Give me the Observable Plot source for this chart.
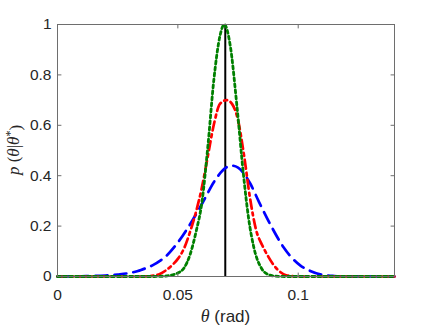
<!DOCTYPE html>
<html>
<head>
<meta charset="utf-8">
<script src="https://cdn.jsdelivr.net/npm/d3@7"></script>
<script src="https://cdn.jsdelivr.net/npm/@observablehq/plot@0.6"></script>
<style>
  html, body { margin: 0; padding: 0; background: #fff; }
  #chart svg { display: block; }
</style>
</head>
<body>
<div id="chart"></div>
<script>
// ---- data ----
const blueX  = [0, 0.01, 0.02, 0.025, 0.03, 0.0331, 0.035, 0.04, 0.0427, 0.045, 0.05, 0.0552, 0.0607, 0.065, 0.07, 0.0722, 0.075, 0.08, 0.0835, 0.089, 0.0939, 0.1008, 0.105, 0.1098, 0.115, 0.12, 0.14];
const blueY  = [0, 0.001, 0.004, 0.008, 0.014, 0.021, 0.027, 0.047, 0.063, 0.08, 0.135, 0.209, 0.30, 0.375, 0.432, 0.44, 0.432, 0.37, 0.30, 0.196, 0.116, 0.044, 0.022, 0.007, 0.002, 0.0005, 0];

const redX   = [0, 0.035, 0.04, 0.0425, 0.045, 0.0475, 0.05, 0.0525, 0.055, 0.0575, 0.06, 0.0625, 0.065, 0.0675, 0.0703, 0.0725, 0.075, 0.0775, 0.08, 0.0825, 0.085, 0.0875, 0.09, 0.0925, 0.095, 0.1, 0.14];
const redY   = [0, 0, 0.004, 0.01, 0.024, 0.044, 0.07, 0.11, 0.175, 0.255, 0.354, 0.48, 0.605, 0.685, 0.70, 0.685, 0.62, 0.48, 0.31, 0.185, 0.125, 0.08, 0.043, 0.018, 0.005, 0, 0];

const greenX = [0, 0.04, 0.045, 0.0475, 0.05, 0.0525, 0.055, 0.0575, 0.06, 0.0625, 0.065, 0.0675, 0.0693, 0.0718, 0.0745, 0.0773, 0.0794, 0.0815, 0.0849, 0.0875, 0.09, 0.095, 0.14];
const greenY = [0, 0, 0.002, 0.006, 0.014, 0.033, 0.085, 0.175, 0.295, 0.52, 0.785, 0.955, 1.0, 0.914, 0.68, 0.40, 0.23, 0.118, 0.03, 0.008, 0.002, 0, 0];

const trueTheta = [0.0697];

const xTicks = [0, 0.05, 0.1];
const xTickLabels = ["0", "0.05", "0.1"];
const yTicks = [0, 0.2, 0.4, 0.6, 0.8, 1];
const yTickLabels = ["0", "0.2", "0.4", "0.6", "0.8", "1"];

// ---- build rows ----
const rows = (xs, ys) => xs.map((x, i) => ({x, y: ys[i]}));
const blueRows = rows(blueX, blueY);
const redRows = rows(redX, redY);
const greenRows = rows(greenX, greenY);

const axisColor = "#6e6e6e";
const textColor = "#262626";
const tickShape = { draw(ctx, l) { ctx.moveTo(0, 0); ctx.lineTo(0, -l); } };
const tickOpts = { length: 3.5, anchor: "start", shape: tickShape, stroke: axisColor, strokeWidth: 1 };

const chart = Plot.plot({
  width: 436,
  height: 327,
  marginLeft: 57,
  marginRight: 42,
  marginTop: 24,
  marginBottom: 51,
  x: { domain: [0, 0.14] },
  y: { domain: [0, 1] },
  style: { fontFamily: "'Liberation Sans', Arial, Helvetica, sans-serif", fontSize: "15.5px", color: textColor, background: "white", overflow: "visible" },
  marks: [
    Plot.ruleX(trueTheta, { x: d => d, stroke: "black", strokeWidth: 2 }),
    Plot.line(blueRows, { x: "x", y: "y", stroke: "#0000ff", strokeWidth: 2.7, strokeDasharray: "12,7", curve: "monotone-x" }),
    Plot.line(redRows, { x: "x", y: "y", stroke: "#ff0000", strokeWidth: 2.7, strokeDasharray: "9,4,3,4", curve: "monotone-x" }),
    Plot.line(greenRows, { x: "x", y: "y", stroke: "#008000", strokeWidth: 2.8, strokeDasharray: "3,3", curve: "monotone-x" }),
    Plot.frame({ stroke: axisColor, strokeWidth: 1 }),
    Plot.vector(xTicks, { x: d => d, frameAnchor: "bottom", rotate: 0, ...tickOpts }),
    Plot.vector(xTicks, { x: d => d, frameAnchor: "top", rotate: 180, ...tickOpts }),
    Plot.vector(yTicks, { y: d => d, frameAnchor: "left", rotate: 90, ...tickOpts }),
    Plot.vector(yTicks, { y: d => d, frameAnchor: "right", rotate: -90, ...tickOpts }),
    Plot.axisX({ ticks: xTicks, tickFormat: d => xTickLabels[xTicks.indexOf(d)], tickSize: 0, tickPadding: 12.5, label: null, fill: textColor }),
    Plot.axisY({ ticks: yTicks, tickFormat: d => yTickLabels[yTicks.indexOf(d)], tickSize: 0, tickPadding: 6, label: null, fill: textColor })
  ]
});

document.getElementById("chart").appendChild(chart);

// ---- axis titles with mixed styling ----
const svg = d3.select(chart);
const serif = "'Liberation Serif', 'DejaVu Serif', serif";
const sans = "'Liberation Sans', Arial, sans-serif";

const xl = svg.append("text")
  .attr("x", 225.5).attr("y", 322)
  .attr("text-anchor", "middle")
  .attr("fill", textColor)
  .style("font-size", "17px");
xl.append("tspan").attr("font-family", serif).attr("font-style", "italic").style("font-size", "18px").text("θ");
xl.append("tspan").attr("font-family", sans).text(" (rad)");

const yl = svg.append("text")
  .attr("transform", "translate(19,150) rotate(-90)")
  .attr("text-anchor", "middle")
  .attr("fill", textColor)
  .attr("font-family", serif)
  .style("font-size", "17px");
yl.append("tspan").attr("font-style", "italic").text("p");
yl.append("tspan").text(" (");
yl.append("tspan").attr("font-style", "italic").text("θ");
yl.append("tspan").text("|");
yl.append("tspan").attr("font-style", "italic").text("θ");
yl.append("tspan").attr("dy", "-0.4em").style("font-size", "12px").text("*");
yl.append("tspan").attr("dy", "0.4em").text(")");
</script>
</body>
</html>
